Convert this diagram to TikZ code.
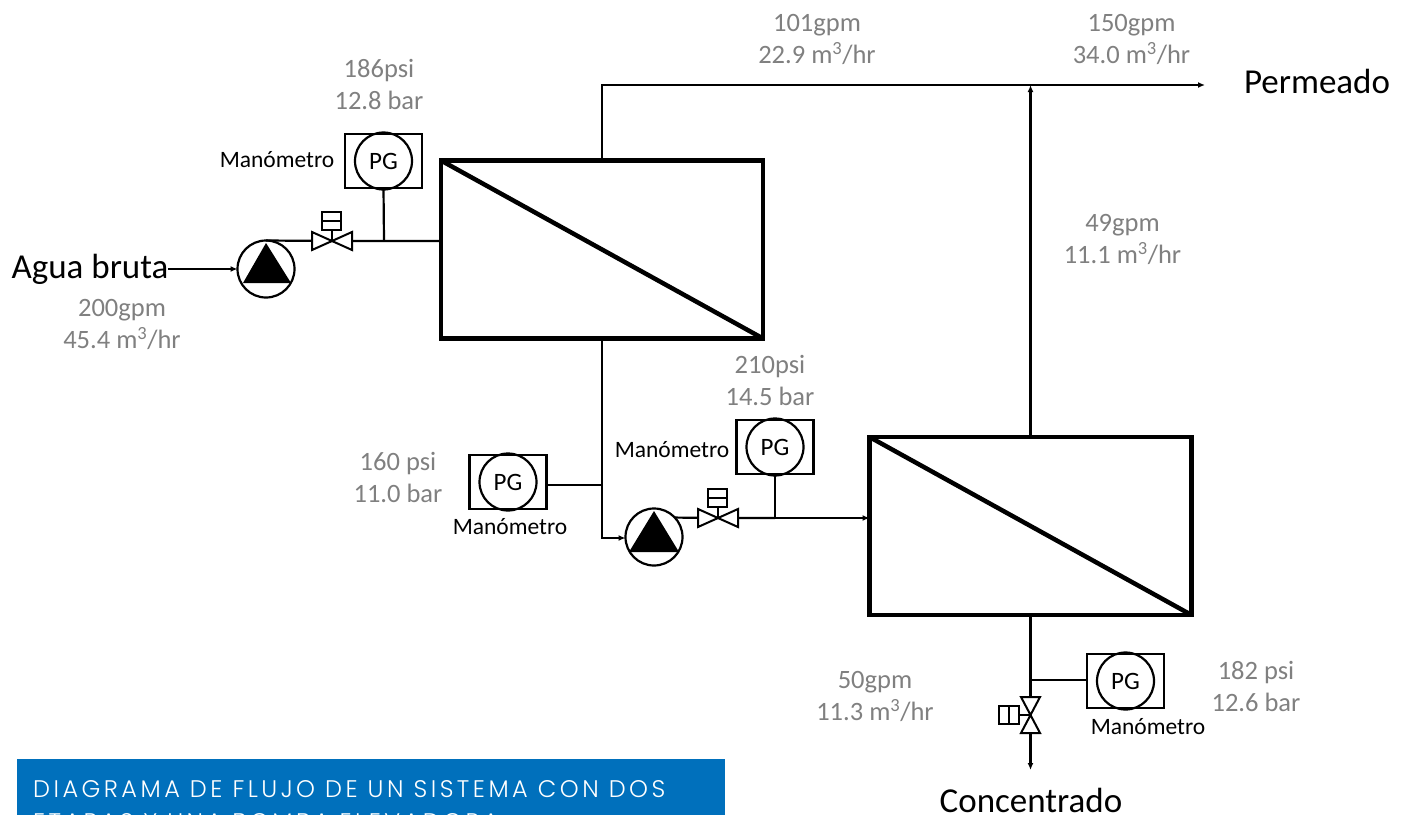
\documentclass[tikz,border=0pt]{standalone}
\usepackage{fontspec}
\setmainfont{Carlito}
\newfontfamily\titlefont[LetterSpace=14.5]{Poppins Light}
\usetikzlibrary{arrows.meta,calc}
\definecolor{accent}{HTML}{0070BC}
\definecolor{dato}{HTML}{808080}
\begin{document}
\begin{tikzpicture}[x=1pt, y=-1pt, >={Latex[length=7pt,width=6pt]}, line width=2.2pt,
    etapa/.style={draw, rectangle, line width=4.5pt, minimum width=322pt, minimum height=178pt, outer sep=0pt},
    bomba/.style={draw, circle, minimum size=57pt, inner sep=0pt, outer sep=0pt, fill=white},
    caja/.style={draw, rectangle, minimum width=77pt, minimum height=54pt, outer sep=0pt},
    pg/.style={draw, circle, minimum size=57pt, inner sep=0pt, font=\fontsize{25}{27}\selectfont},
    dato/.style={text=dato, align=center, font=\fontsize{26.5}{32}\selectfont},
    mano/.style={font=\fontsize{23.5}{26}\selectfont},
    corriente/.style={font=\fontsize{35}{38}\selectfont},
    act/.style={draw, fill=white, line width=2pt}]
    \useasboundingbox (0,0) rectangle (1407,814);

    \node[etapa] (e1) at (602,249.5) {};
    \node[etapa] (e2) at (1030.5,526) {};
    \draw[line width=4.5pt] (e1.north west) -- (e1.south east);
    \draw[line width=4.5pt] (e2.north west) -- (e2.south east);

    % bombas
    \node[bomba] (b1) at (266,269) {};
    \node[bomba] (b2) at (654,537) {};
    \fill (266,243) -- (291,283) -- (243,283) -- cycle;
    \fill (654,511) -- (679,552) -- (629,552) -- cycle;

    % manometros
    \foreach \n/\x/\y in {a/383.5/161, b/775/447, c/508/482, d/1125.5/681} {
      \node[caja] (c\n) at (\x,\y) {};
      \node[pg] (g\n) at (\x,\y) {PG};
    }
    \node[mano] (ma) at (277,160) {Manómetro};
    \node[mano] (mb) at (672,450) {Manómetro};
    \node[mano] (mc) at (510,527) {Manómetro};
    \node[mano] (md) at (1148,727) {Manómetro};

    % puntos de la linea
    \coordinate (t1) at (384,241);
    \coordinate (t2) at (775,518);
    \coordinate (t3) at (602,485);
    \coordinate (t4) at (1030.5,680);
    \coordinate (v1) at (332,241);
    \coordinate (v2) at (718,518);
    \coordinate (v3) at (1030.5,715);
    \coordinate (r1) at (602,85);
    \coordinate (r2) at (1030.5,85);
    \coordinate (r3) at (602,538);
    \coordinate (sal1) at (1205,85);
    \coordinate (sal2) at (1030.5,770);
    \coordinate (ent) at (168,269);

    \draw[->] (ent) -- (b1.west);
    \draw (b1.north) -- (v1) -- (t1) -- (t1-|e1.west);
    \draw (ca.south) -- (t1);
    \draw (e1.north) -- (r1) -- (r2);
    \draw[->] (r2) -- (sal1);
    \draw[->] (e2.north) -- (r2);
    \draw (e1.south) -- (t3);
    \draw[->] (t3) -- (r3) -- (b2.west|-r3);
    \draw (cc.east|-t3) -- (t3);
    \draw (b2.43) -- (v2) -- (t2);
    \draw[->] (t2) -- (t2-|e2.west);
    \draw (cb.south) -- (t2);
    \draw (e2.south) -- (t4);
    \draw (t4) -- (t4-|cd.west);
    \draw (t4) -- (v3);
    \draw[->] (v3) -- (sal2);

    % valvulas
    \foreach \v in {v1,v2} {
      \draw[act] (\v) -- ++(-20,-9) -- ++(0,18) -- ++(40,-18) -- ++(0,18) -- cycle;
      \draw[line width=2pt] (\v) -- ++(0,-12);
      \draw[act] ($(\v)+(-10,-29)$) rectangle ++(19,18);
      \draw[line width=2pt] ($(\v)+(-10,-20)$) -- ++(19,0);
    }
    \draw[act] (v3) -- ++(-9.5,-18) -- ++(19,0) -- ++(-19,36) -- ++(19,0) -- cycle;
    \draw[line width=2pt] (v3) -- ++(-12,0);
    \draw[act] ($(v3)+(-32,-9)$) rectangle ++(20,18);
    \draw[line width=2pt] ($(v3)+(-22,-9)$) -- ++(0,18);

    % datos
    \node[dato] (d1) at (817,39) {101gpm\\22.9 m\textsuperscript{3}/hr};
    \node[dato] (d2) at (1131.5,39) {150gpm\\34.0 m\textsuperscript{3}/hr};
    \node[dato] (d3) at (379,84.5) {186psi\\12.8 bar};
    \node[dato] (d4) at (1122.5,239) {49gpm\\11.1 m\textsuperscript{3}/hr};
    \node[dato] (d5) at (122,324) {200gpm\\45.4 m\textsuperscript{3}/hr};
    \node[dato] (d6) at (770,380) {210psi\\14.5 bar};
    \node[dato] (d7) at (398,477) {160 psi\\11.0 bar};
    \node[dato] (d8) at (875,696) {50gpm\\11.3 m\textsuperscript{3}/hr};
    \node[dato] (d9) at (1256,686) {182 psi\\12.6 bar};

    \node[corriente] (perm) at (1317,81) {Permeado};
    \node[corriente] (agua) at (90,269) {Agua bruta};
    \node[corriente] (conc) at (1031,800) {Concentrado};

    % titulo
    \begin{scope}
      \clip (0,0) rectangle (1407,814);
      \node[fill=accent, minimum width=708pt, minimum height=70pt, anchor=north west, inner sep=0pt] (tit) at (16,757.5) {};
      \node[text=white, anchor=west, inner sep=0pt, align=left, font=\titlefont\fontsize{24}{33}\selectfont] (txt) at (32,806)
        {DIAGRAMA DE FLUJO DE UN SISTEMA CON DOS\\ETAPAS Y UNA BOMBA ELEVADORA};
    \end{scope}
\end{tikzpicture}
\end{document}
